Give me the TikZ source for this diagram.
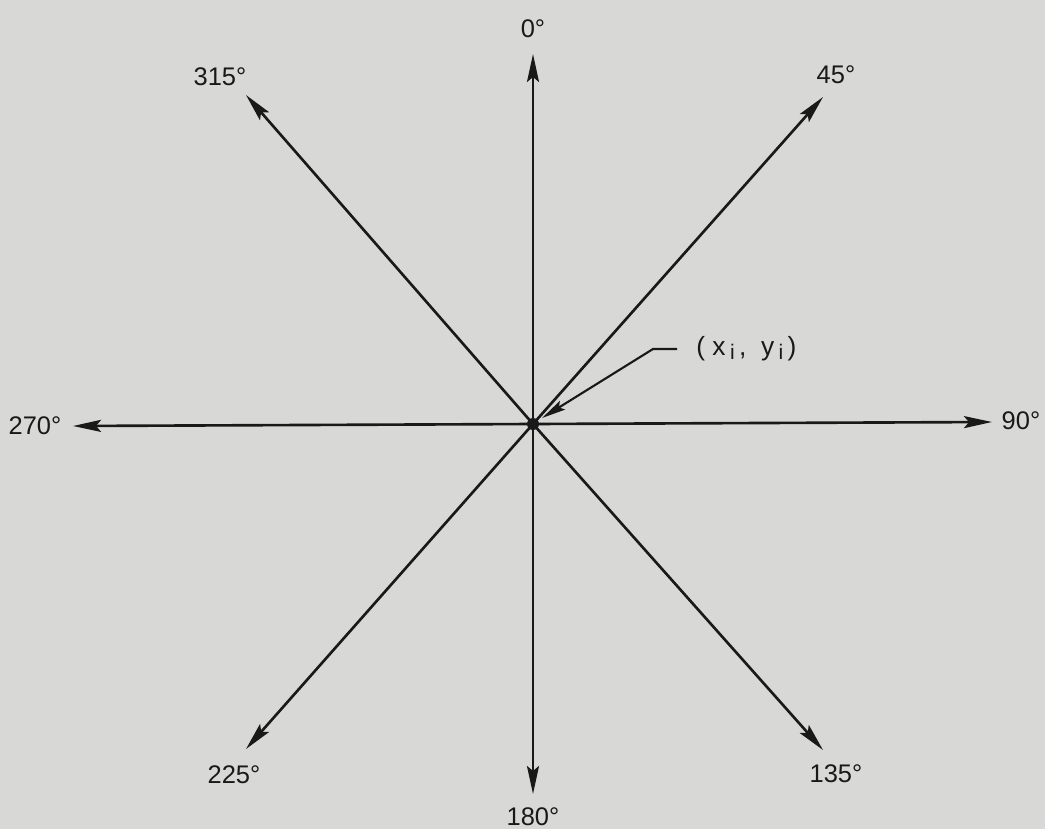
\documentclass[tikz,border=0pt]{standalone}
\usepackage{fontspec}
\setmainfont{Liberation Sans}
\usetikzlibrary{arrows.meta,calc}
\definecolor{paper}{RGB}{216,216,214}
\definecolor{ink}{RGB}{25,25,25}
\begin{document}
\begin{tikzpicture}[x=0.02cm,y=-0.02cm,
  ray/.style={draw=ink,line width=1.5pt,-{Stealth[length=0.56cm,width=0.24cm,inset=0.1cm]}},
  lbl/.style={text=ink,font=\fontsize{14.5}{16}\selectfont,inner sep=0pt},
  lead/.style={draw=ink,line width=1.2pt}]
\fill[paper] (0,0) rectangle (1045,829);
\useasboundingbox (0,0) rectangle (1045,829);
\coordinate (O) at (533,424);
\coordinate (t0) at (533,54);
\coordinate (t45) at (823,97);
\coordinate (t90) at (992,422);
\coordinate (t135) at (823,750);
\coordinate (t180) at (533,794);
\coordinate (t225) at (246,749);
\coordinate (t270) at (73,426);
\coordinate (t315) at (246,95);
\foreach \t in {t0,t45,t90,t135,t180,t225,t270,t315}
  \draw[ray] (O) -- (\t);
\fill[ink] (O) circle (6);
\node[lbl] (l0) at (533,29) {0°};
\node[lbl] (l45) at (836,75) {45°};
\node[lbl] (l90) at (1021,421) {90°};
\node[lbl] (l135) at (836,774) {135°};
\node[lbl] (l180) at (533,817) {180°};
\node[lbl] (l225) at (234,775) {225°};
\node[lbl] (l270) at (35,426) {270°};
\node[lbl] (l315) at (220,77) {315°};
\node[lbl,anchor=west,font=\fontsize{15}{17}\selectfont] (pt) at (696,349)
  {(\;x\,\raisebox{-0.3ex}{\fontsize{12}{14}\selectfont i}\,,\; y\,\raisebox{-0.3ex}{\fontsize{12}{14}\selectfont i}\,)};
\coordinate (lstart) at (677,349);
\coordinate (bend) at (653,349);
\draw[lead,-{Stealth[length=0.48cm,width=0.2cm,inset=0.08cm]}] (lstart) -- (bend) -- ($(O)+(9,-6)$);
\end{tikzpicture}
\end{document}
